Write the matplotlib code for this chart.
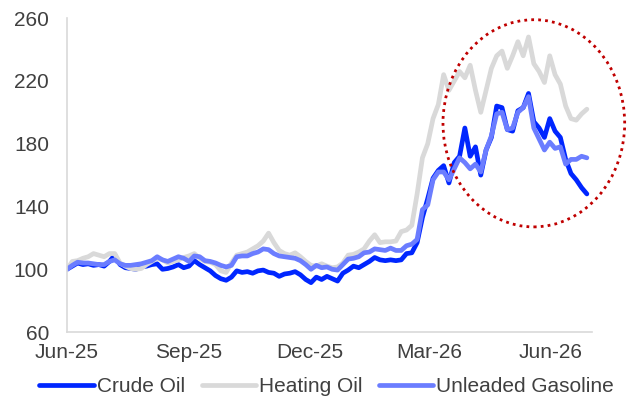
import matplotlib
matplotlib.use("Agg")
import matplotlib.pyplot as plt
import matplotlib.dates as mdates
from matplotlib.patches import Ellipse
import numpy as np
import pandas as pd

plt.rcParams['font.family'] = ['Liberation Sans', 'DejaVu Sans']

# index levels (start = 100), one reading every 4 days from 1 Jun 2025
start_date = "2025-06-01"
step = "4D"

crude_oil = [
    100, 102, 104, 103, 103.5, 102.5, 103, 102, 105, 109,
    103, 101, 100.5, 100, 101.5, 102, 103, 103.5, 100, 100.5,
    101.5, 103, 101, 102, 105.5, 103, 101, 99, 96, 94,
    93, 95, 99, 98, 98.5, 97.5, 99, 99.5, 98, 97.5,
    95.5, 97, 97.5, 98.5, 96.5, 93.5, 91.5, 95, 93.5, 95.5,
    94, 92.5, 97.5, 99.5, 102, 101, 103, 105, 107.5, 106,
    105.5, 106, 105.5, 106, 110, 110.5, 117, 133, 145, 158,
    163, 166, 155, 168, 172, 190, 172, 178, 160, 176,
    184, 204, 203, 189, 188, 201, 203, 212, 194, 190,
    184, 196, 188, 184, 170, 161, 157, 152, 148,
]

heating_oil = [
    100, 105, 105.5, 107, 108, 110, 109, 108, 110, 110,
    104, 102, 100.5, 100, 100.5, 103, 105, 107, 106, 104,
    105, 106, 107.5, 108.5, 110, 107, 105, 104.5, 103, 99,
    98, 104, 109, 110, 111, 113, 115, 118, 123, 117,
    112, 110, 109, 110.5, 108, 105, 102.5, 102, 103.5, 102,
    101, 101.5, 104, 109, 109.5, 111, 113, 118, 122, 117,
    117.5, 117.5, 118, 124, 125, 128, 148, 171, 180, 196,
    205, 224, 214, 220, 226, 222, 230, 214, 200, 214,
    228, 236, 239, 228, 236, 245, 236, 248, 231, 226,
    219, 236, 224, 218, 204, 196, 195, 199, 202,
]

unleaded_gasoline = [
    100, 102.5, 104.5, 104, 104, 103.5, 103, 103, 105, 106,
    103.5, 102.5, 102.5, 103, 103.5, 104.5, 105.5, 108, 106, 105,
    106.5, 108, 107, 105, 108.5, 108, 105.5, 105, 104, 102.5,
    101.5, 102.5, 108, 108.5, 108.5, 110, 111, 113, 112.5, 110,
    108.5, 108, 107.5, 107, 105.5, 103, 100, 102.5, 101, 101.5,
    100, 99.5, 103, 106.5, 107, 108, 110.5, 111, 113, 112.5,
    112, 113.5, 112, 112, 115, 116, 119, 138, 141, 157,
    162, 162, 157, 164, 171, 168, 164, 167, 162, 176,
    185, 199, 200, 189, 190, 200, 203, 210, 190, 183,
    176, 181, 177, 178, 167, 170, 170, 172, 171,
]

series_names = ["Crude Oil", "Heating Oil", "Unleaded Gasoline"]
series_colors = ["#0026FF", "#D9D9D9", "#6B7DFF"]

tick_months = ["2025-06-01", "2025-09-01", "2025-12-01", "2026-03-01", "2026-06-01"]
y_ticks = [60, 100, 140, 180, 220, 260]

dates = pd.date_range(start_date, periods=len(crude_oil), freq=step)

fig = plt.figure(figsize=(6.32, 4.03), dpi=100)
ax = fig.add_axes([0.106, 0.176, 0.831, 0.779])

for vals, name, col in zip([crude_oil, heating_oil, unleaded_gasoline],
                           series_names, series_colors):
    ax.plot(dates, vals, color=col, lw=3.4, label=name,
            solid_joinstyle='round', solid_capstyle='round')

ax.set_ylim(60, 260)
ax.set_yticks(y_ticks)
ax.set_xlim(pd.Timestamp("2025-06-01"), pd.Timestamp("2026-07-02"))
ax.set_xticks(pd.to_datetime(tick_months))
ax.xaxis.set_major_formatter(mdates.DateFormatter("%b-%y"))

for side in ["top", "right"]:
    ax.spines[side].set_visible(False)
for side in ["left", "bottom"]:
    ax.spines[side].set_color("#D9D9D9")
    ax.spines[side].set_linewidth(1.2)

ax.tick_params(axis='y', length=0, pad=13, labelsize=15, labelcolor="#404040")
ax.tick_params(axis='x', length=0, pad=8, labelsize=15, labelcolor="#404040")

# dotted red ring around the recent spike
ring_center = mdates.date2num(pd.Timestamp("2026-05-19"))
ring = Ellipse((ring_center, 193), width=137, height=132, fill=False,
               edgecolor="#C00000", lw=2, linestyle=(0, (1, 1.5)),
               clip_on=False, zorder=5)
ax.add_patch(ring)

fig.legend(loc="center", bbox_to_anchor=(0.517, 0.04), ncol=3, frameon=False,
           fontsize=15, handlelength=2.6, handletextpad=0.15,
           columnspacing=0.8, labelcolor="#404040")

fig.savefig("out.png", dpi=100)
